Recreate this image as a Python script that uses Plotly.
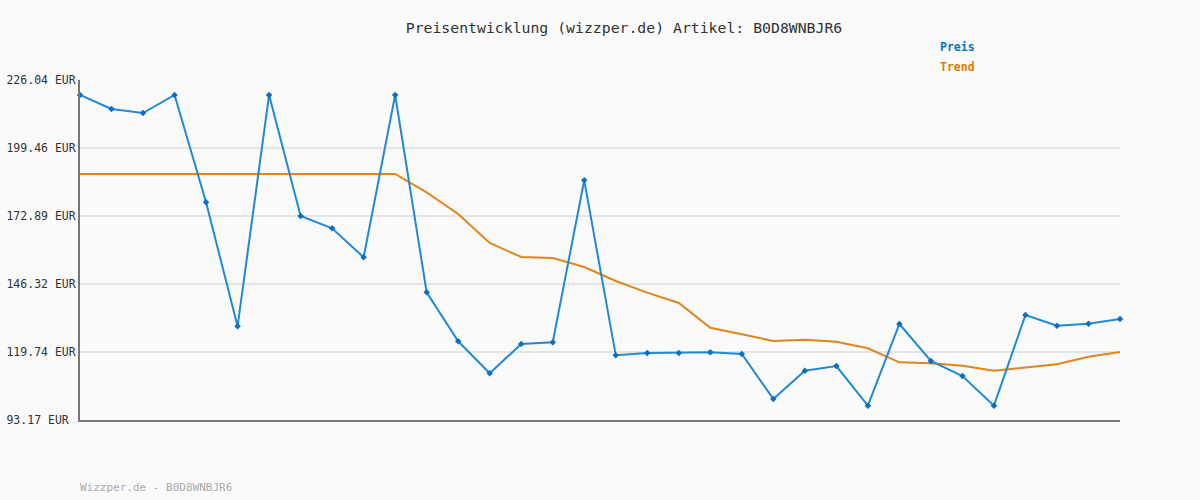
import plotly.graph_objects as go

preis = [220.18, 214.71, 213.14, 220.18, 178.24, 129.78, 220.18, 172.89, 168.08, 156.75,
         220.18, 143.07, 123.92, 111.42, 122.87, 123.53, 186.84, 118.45, 119.35, 119.35,
         119.62, 118.96, 101.38, 112.44, 114.27, 98.76, 130.69, 116.22, 110.36, 98.76,
         134.20, 130.02, 130.80, 132.63]
trend = [189.31] * 11 + [182.15, 173.67, 162.34, 156.87, 156.48, 152.96, 147.49, 142.93,
                         138.89, 129.24, 126.65, 124.04, 124.55, 123.77, 121.18, 115.72,
                         115.33, 114.39, 112.44, 113.76, 114.93, 117.91, 119.74]
x_idx = list(range(len(preis)))
tick_vals = [93.17, 119.74, 146.32, 172.89, 199.46, 226.04]
tick_text = ["93.17 EUR\u00a0", "119.74 EUR", "146.32 EUR", "172.89 EUR", "199.46 EUR", "226.04 EUR"]

FONT = "DejaVu Sans Mono"
fig = go.Figure()
fig.add_trace(go.Scatter(x=x_idx, y=trend, mode="lines", name="Trend",
                         line=dict(color="#e0861a", width=2), cliponaxis=False))
fig.add_trace(go.Scatter(x=x_idx, y=preis, mode="lines+markers", name="Preis",
                         line=dict(color="#2289d3", width=2),
                         marker=dict(symbol="diamond", size=5, color="#0a6fc2"),
                         cliponaxis=False))

fig.update_layout(
    width=1200, height=500,
    paper_bgcolor="#fafafa", plot_bgcolor="#fafafa",
    margin=dict(l=80, r=80, t=80, b=80, autoexpand=False),
    showlegend=False,
    font=dict(family=FONT, color="#333333", size=12),
    title=dict(text="Preisentwicklung (wizzper.de) Artikel: B0D8WNBJR6",
               x=0.52, xanchor="center", y=0.944, yanchor="middle",
               font=dict(family=FONT, size=14.8, color="#333333")),
    xaxis=dict(range=[0, 33], showgrid=False, zeroline=False, showticklabels=False,
               ticks="", showline=True, linecolor="#777777", linewidth=2, automargin=False),
    yaxis=dict(range=[93.17, 226.04], tickvals=tick_vals, ticktext=tick_text,
               showgrid=True, gridcolor="#e4e4e4", gridwidth=2, zeroline=False,
               showline=True, linecolor="#777777", linewidth=2, ticks="", ticklen=0,
               ticklabelstandoff=0, automargin=False,
               tickfont=dict(family=FONT, size=11.5, color="#333333")),
    annotations=[
        dict(text="<b>Preis</b>", xref="paper", yref="paper", x=(938 - 80) / 1040, y=(500 - 80 - 47) / 340,
             xanchor="left", yanchor="middle", showarrow=False,
             font=dict(family=FONT, size=11.5, color="#0077cc")),
        dict(text="<b>Trend</b>", xref="paper", yref="paper", x=(938 - 80) / 1040, y=(500 - 80 - 67) / 340,
             xanchor="left", yanchor="middle", showarrow=False,
             font=dict(family=FONT, size=11.5, color="#e07b00")),
        dict(text="Wizzper.de - B0D8WNBJR6", xref="paper", yref="paper", x=-2 / 1040, y=(500 - 80 - 487) / 340,
             xanchor="left", yanchor="middle", showarrow=False,
             font=dict(family=FONT, size=11, color="#aaaaaa")),
    ],
)
fig.write_html("out.html", config={"displayModeBar": False},
               post_script="document.body.style.margin='0';")
